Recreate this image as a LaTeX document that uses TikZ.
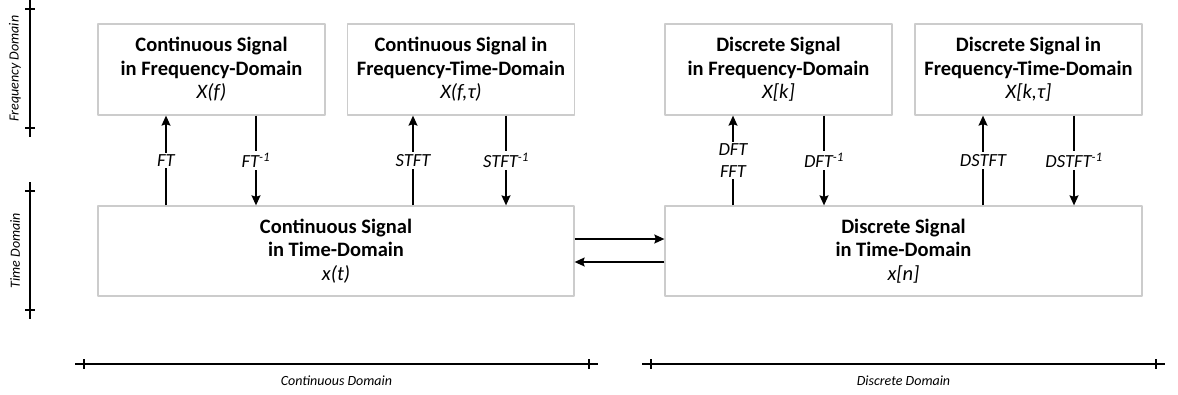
\documentclass[tikz,border=0pt]{standalone}
\usepackage{fontspec}
\setmainfont{Carlito}
\usepackage{tikz}
\usetikzlibrary{arrows.meta}
\usetikzlibrary{positioning}
\tikzset{sigbox/.style={draw=gray!40,line width=1.3pt,minimum width=227pt,minimum height=91pt,inner sep=0pt,align=center,font=\fontsize{20.5}{23.5}\selectfont},
  trlab/.style={fill=white,inner sep=2pt,align=center,font=\fontsize{18.5}{22}\selectfont\itshape},
  axlab/.style={font=\fontsize{14}{16}\selectfont\itshape}}

\begin{document}
\begin{tikzpicture}[x=1pt,y=-1pt,>={Stealth[length=10pt,width=9pt,inset=1.5pt]},line width=1.3pt,line join=round]
\useasboundingbox (0,0) rectangle (1178,394);
% --- signal boxes, frequency side
\node[sigbox] (cf) at (211.5,69.5) {\textbf{Continuous Signal}\\\textbf{in Frequency-Domain}\\\textit{X(f)}};
\node[sigbox] (cs) at (461,69.5) {\textbf{Continuous Signal in}\\\textbf{Frequency-Time-Domain}\\\textit{X(f,τ)}};
\node[sigbox] (df) at (778.5,69.5) {\textbf{Discrete Signal}\\\textbf{in Frequency-Domain}\\\textit{X[k]}};
\node[sigbox] (ds) at (1028.5,69.5) {\textbf{Discrete Signal in}\\\textbf{Frequency-Time-Domain}\\\textit{X[k,τ]}};
% --- signal boxes, time side
\node[sigbox,minimum width=476pt,minimum height=90pt] (ct) at (336,251) {\textbf{Continuous Signal}\\\textbf{in Time-Domain}\\\textit{x(t)}};
\node[sigbox,minimum width=477pt,minimum height=90pt] (dt) at (903.5,251) {\textbf{Discrete Signal}\\\textbf{in Time-Domain}\\\textit{x[n]}};
% --- transforms up and down
\path (cf.south) ++(-45.5,0) coordinate (cfu) ++(90,0) coordinate (cfd);
\path (cs.south) ++(-48,0) coordinate (csu) ++(93,0) coordinate (csd);
\path (df.south) ++(-45.5,0) coordinate (dfu) ++(91,0) coordinate (dfd);
\path (ds.south) ++(-45.5,0) coordinate (dsu) ++(91,0) coordinate (dsd);
\draw[->] (cfu |- ct.north) -- node[trlab]{FT} (cfu);
\draw[->] (cfd) -- node[trlab]{FT\textsuperscript{-1}} (cfd |- ct.north);
\draw[->] (csu |- ct.north) -- node[trlab]{STFT} (csu);
\draw[->] (csd) -- node[trlab]{STFT\textsuperscript{-1}} (csd |- ct.north);
\draw[->] (dfu |- dt.north) -- node[trlab]{DFT\\FFT} (dfu);
\draw[->] (dfd) -- node[trlab]{DFT\textsuperscript{-1}} (dfd |- dt.north);
\draw[->] (dsu |- dt.north) -- node[trlab]{DSTFT} (dsu);
\draw[->] (dsd) -- node[trlab]{DSTFT\textsuperscript{-1}} (dsd |- dt.north);
% --- sampling and reconstruction
\draw[->] ([yshift=12]ct.east) -- ([yshift=12]dt.west);
\draw[->] ([yshift=-11]dt.west) -- ([yshift=-11]ct.east);
% --- domain axes
\draw (30,0) -- (30,137) (25,9) -- (35,9) (25,128) -- (35,128);
\node[axlab,rotate=90] (fdom) at (15,68.5) {Frequency Domain};
\draw (30,182) -- (30,319) (25,191) -- (35,191) (25,310) -- (35,310);
\node[axlab,rotate=90] (tdom) at (15,250.5) {Time Domain};
\draw (75,364) -- (598,364) (84,359) -- (84,369) (589,359) -- (589,369);
\node[axlab] (cdom) at (336.5,381) {Continuous Domain};
\draw (642,364) -- (1165,364) (651,359) -- (651,369) (1156,359) -- (1156,369);
\node[axlab] (ddom) at (903.5,381) {Discrete Domain};
\end{tikzpicture}
\end{document}
